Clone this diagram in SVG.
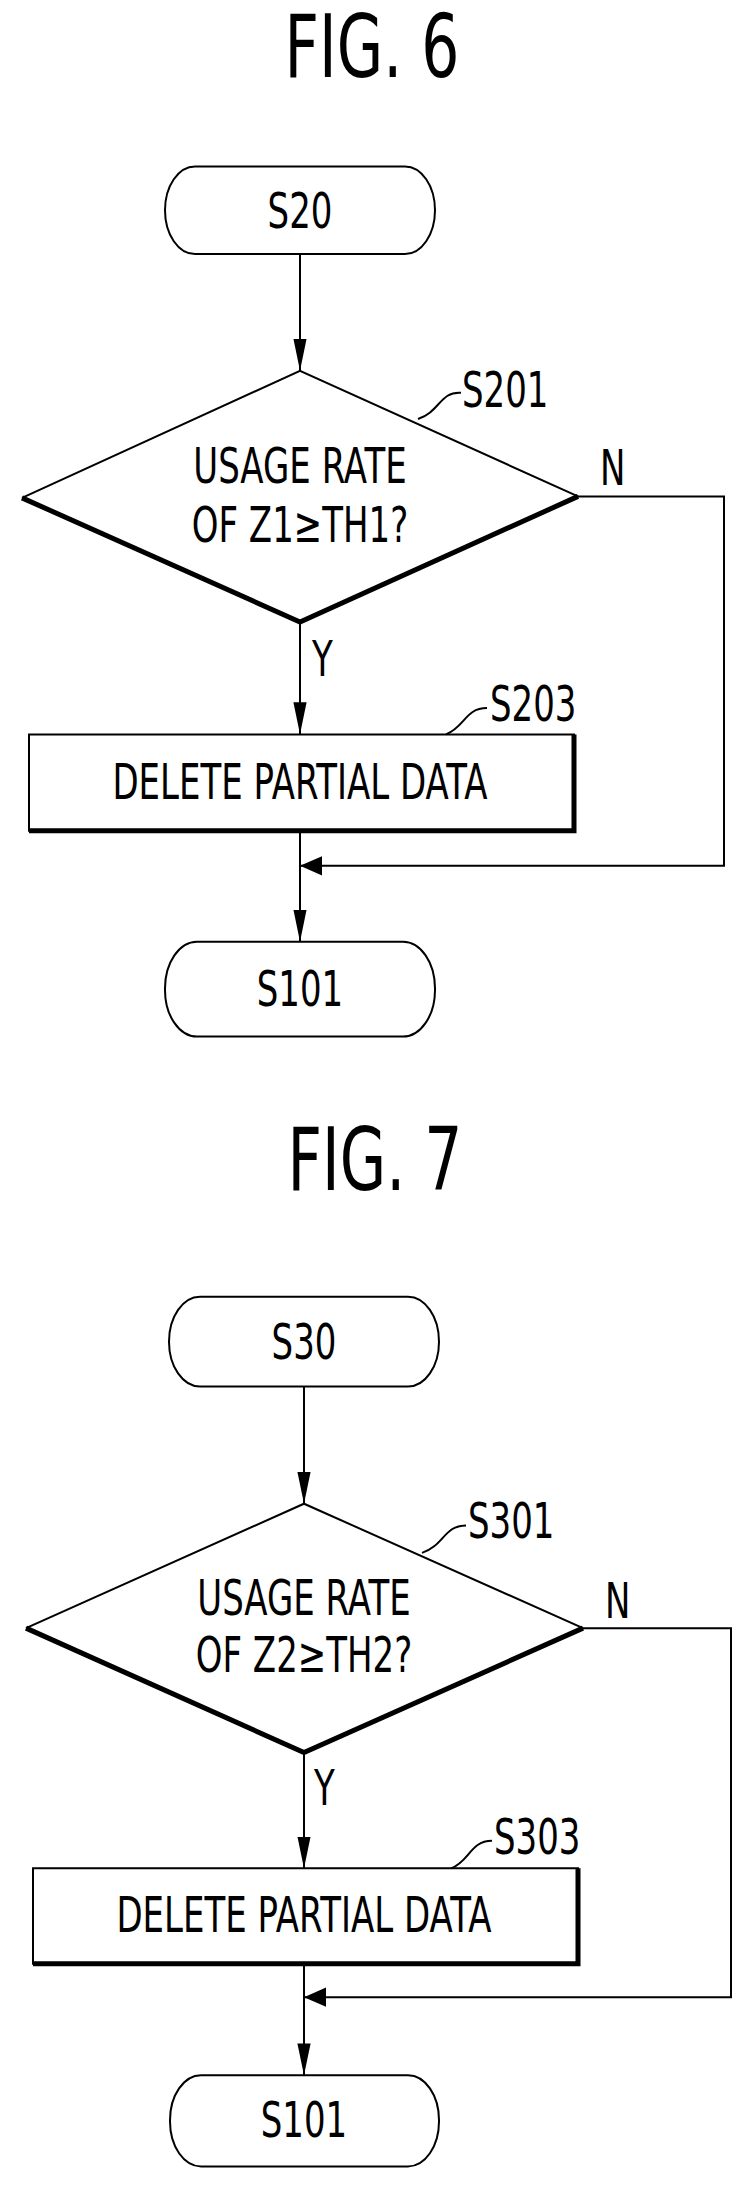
<svg xmlns="http://www.w3.org/2000/svg" width="746" height="2189" viewBox="0 0 746 2189">
<defs>
<style>
text{font-family:"DejaVu Sans","Liberation Sans",sans-serif;fill:#000}
.fig{font-size:60px;text-anchor:middle}
.t{font-size:34px;text-anchor:middle}
.l{font-size:34px}
.s{fill:none;stroke:#000;stroke-width:2;vector-effect:non-scaling-stroke}
.b{fill:none;stroke:#000;stroke-width:5;vector-effect:non-scaling-stroke}
#connectors path{vector-effect:non-scaling-stroke}
</style>
<marker id="ah" viewBox="0 0 10 10" refX="10" refY="5" markerWidth="22" markerHeight="22" markerUnits="userSpaceOnUse" orient="auto"><path d="M0,2L10,5L0,8z"/></marker>
</defs>
<g transform="scale(1,1.46)">
<text class="fig" x="372" y="53">FIG. 6</text>
<g id="s20"><rect class="s" x="165" y="114" width="270" height="60" rx="30"/><text class="t" x="300" y="156">S20</text></g>
<g id="s201"><path class="s" d="M22,341L300,254L578,340"/><path class="b" d="M22,341L300,426L578,340"/>
<text class="t" x="300" y="331">USAGE RATE</text><text class="t" x="300" y="371">OF Z1≥TH1?</text>
<path class="s" d="M418,287C440,282 440,268 461,269"/><text class="l" x="462" y="279">S201</text></g>
<g id="s203"><rect class="s" x="29" y="503" width="545" height="66"/><path class="b" d="M574,503V569H29"/>
<text class="t" x="300" y="547">DELETE PARTIAL DATA</text>
<path class="s" d="M446,503C465,498 465,485 487,485"/><text class="l" x="490" y="494">S203</text></g>
<g id="s101a"><rect class="s" x="165" y="645" width="270" height="65" rx="32"/><text class="t" x="300" y="689">S101</text></g>
<text class="l" x="600" y="332">N</text>
<text class="l" x="312" y="463">Y</text>
</g>
<g transform="translate(0,1100) scale(1,1.447) translate(0,-1100)">
<text class="fig" x="375" y="1162">FIG. 7</text>
<g id="s30"><rect class="s" x="169" y="1236" width="270" height="62" rx="31"/><text class="t" x="304" y="1279">S30</text></g>
<g id="s301"><path class="s" d="M26,1465L304,1379L583,1465"/><path class="b" d="M26,1465L304,1551L583,1465"/>
<text class="t" x="304" y="1456">USAGE RATE</text><text class="t" x="304" y="1495">OF Z2≥TH2?</text>
<path class="s" d="M422,1413C444,1408 444,1394 466,1394"/><text class="l" x="468" y="1403">S301</text></g>
<g id="s303"><rect class="s" x="33" y="1631" width="545" height="66"/><path class="b" d="M578,1631V1697H33"/>
<text class="t" x="304" y="1675">DELETE PARTIAL DATA</text>
<path class="s" d="M451,1631C470,1626 470,1612 492,1612"/><text class="l" x="494" y="1621">S303</text></g>
<g id="s101b"><rect class="s" x="170" y="1774" width="269" height="63" rx="31"/><text class="t" x="304" y="1817">S101</text></g>
<text class="l" x="605" y="1458">N</text>
<text class="l" x="314" y="1587">Y</text>
</g>
<g id="connectors" fill="none" stroke="#000" stroke-width="2">
<g transform="scale(1,1.46)">
<path d="M300,174V254" marker-end="url(#ah)"/>
<path d="M300,426V503" marker-end="url(#ah)"/>
<path d="M300,569V645" marker-end="url(#ah)"/>
<path d="M578,340H724V593H300" marker-end="url(#ah)"/>
</g>
<g transform="translate(0,1100) scale(1,1.447) translate(0,-1100)">
<path d="M304,1298V1379" marker-end="url(#ah)"/>
<path d="M304,1551V1631" marker-end="url(#ah)"/>
<path d="M304,1697V1774" marker-end="url(#ah)"/>
<path d="M583,1465H731V1720H304" marker-end="url(#ah)"/>
</g>
</g>
</svg>
